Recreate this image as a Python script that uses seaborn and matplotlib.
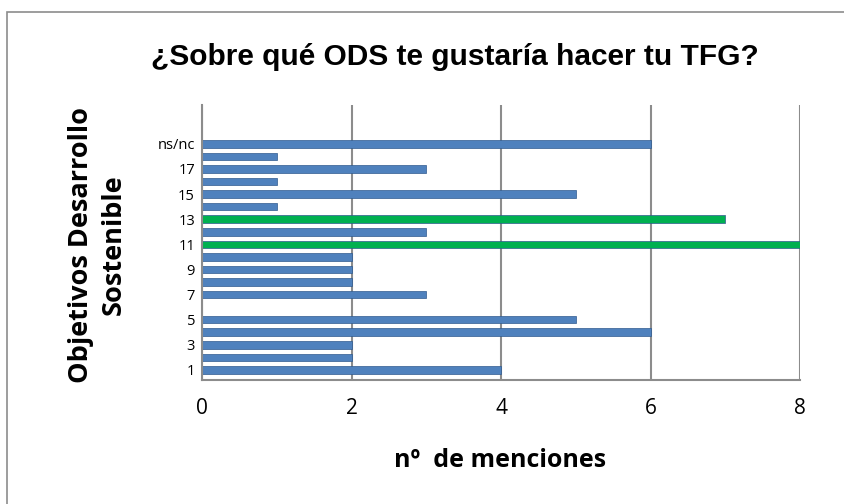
import matplotlib
matplotlib.use("Agg")
import matplotlib.pyplot as plt
import matplotlib.patches as patches
import seaborn as sns
import pandas as pd

# data
ods = ["1", "2", "3", "4", "5", "6", "7", "8", "9", "10",
       "11", "12", "13", "14", "15", "16", "17", "18", "ns/nc"]
menciones = [4, 2, 2, 6, 5, 0, 3, 2, 2, 2, 8, 3, 7, 1, 5, 1, 3, 1, 6]
destacados = ["11", "13"]

blue = "#4F81BD"
green = "#00B050"

df = pd.DataFrame({"ODS": ods, "Menciones": menciones})
colores = {c: (green if c in destacados else blue) for c in ods}

sns.set_theme(style="white", rc={"text.color": "black",
                                 "xtick.color": "black",
                                 "ytick.color": "black"})
plt.rcParams['font.family'] = ['Liberation Sans', 'DejaVu Sans']
body = ['Open Sans', 'DejaVu Sans']

fig = plt.figure(figsize=(8.45, 5.04), dpi=100)
ax = fig.add_axes([0.239, 0.246, 0.708, 0.546])

sns.barplot(data=df, x="Menciones", y="ODS", hue="ODS", order=ods,
            palette=colores, legend=False, width=0.6, orient="h",
            saturation=1, edgecolor="#2F5A8F", linewidth=0.5, ax=ax)

ax.set_ylim(-0.8, 21.1)
ax.set_xlim(0, 8)
ax.set_xticks([0, 2, 4, 6, 8])
ax.set_yticks(range(0, len(ods), 2))
ax.set_yticklabels(ods[::2], fontsize=10.5, family=body)
for lbl in ax.get_xticklabels():
    lbl.set_fontsize(15)
    lbl.set_family(body)

ax.xaxis.grid(True, color="#8C8C8C", linewidth=1.5)
ax.set_axisbelow(True)
for s in ["top", "right"]:
    ax.spines[s].set_visible(False)
for s in ["left", "bottom"]:
    ax.spines[s].set_color("#8C8C8C")
    ax.spines[s].set_linewidth(1.5)
ax.tick_params(axis="x", direction="out", length=5, width=1.2, color="#8C8C8C",
               labelcolor="black", pad=8)
ax.tick_params(axis="y", length=0, pad=5, labelcolor="black")

ax.set_xlabel("")
ax.set_ylabel("")
fig.text(0.592, 0.087, "nº  de menciones", ha="center", va="center",
         fontsize=18, fontweight="bold", family=body)
fig.text(0.115, 0.514, "Objetivos Desarrollo\nSostenible", ha="center", va="center",
         rotation=90, fontsize=19.5, fontweight="bold", linespacing=1.35,
         family=body)
fig.text(0.538, 0.887, "¿Sobre qué ODS te gustaría hacer tu TFG?", ha="center",
         va="center", fontsize=21.5, fontweight="bold")

# chart border
fig.patches.append(patches.Rectangle((0.008, -0.1), 1.2, 0.1 + 1 - 12 / 504,
                                     transform=fig.transFigure, fill=False,
                                     edgecolor="#8C8C8C", linewidth=1.2))

fig.savefig("out.png", dpi=100)
